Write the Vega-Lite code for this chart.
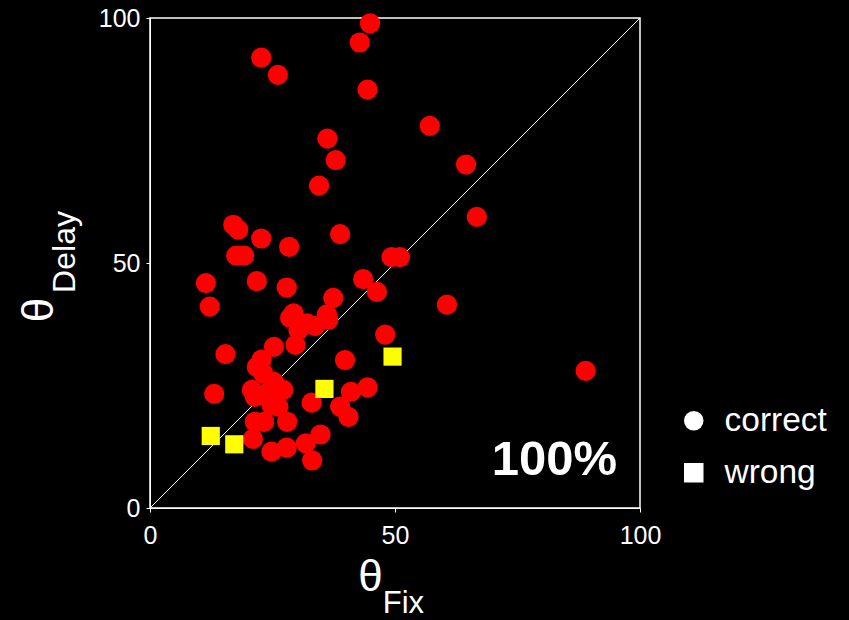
{
  "$schema": "https://vega.github.io/schema/vega-lite/v6.json",
  "width": 490,
  "height": 490,
  "autosize": {"type": "none"},
  "padding": {"left": 150, "top": 18, "right": 209, "bottom": 112},
  "background": "black",
  "config": {
    "font": "Liberation Sans",
    "view": {"stroke": "white", "strokeWidth": 1.5},
    "axis": {
      "grid": false,
      "domainColor": "white",
      "tickColor": "white",
      "labelColor": "white",
      "labelFontSize": 25,
      "labelFont": "Liberation Sans",
      "labelFlush": false,
      "tickSize": 4,
      "title": null
    }
  },
  "data": {
    "values": [
      {"fix": 44.9, "delay": 98.9, "outcome": "correct"},
      {"fix": 42.8, "delay": 95.0, "outcome": "correct"},
      {"fix": 22.7, "delay": 91.9, "outcome": "correct"},
      {"fix": 26.1, "delay": 88.4, "outcome": "correct"},
      {"fix": 44.4, "delay": 85.4, "outcome": "correct"},
      {"fix": 57.1, "delay": 78.0, "outcome": "correct"},
      {"fix": 36.2, "delay": 75.4, "outcome": "correct"},
      {"fix": 37.9, "delay": 71.0, "outcome": "correct"},
      {"fix": 64.5, "delay": 70.1, "outcome": "correct"},
      {"fix": 34.5, "delay": 65.8, "outcome": "correct"},
      {"fix": 66.7, "delay": 59.4, "outcome": "correct"},
      {"fix": 17.0, "delay": 57.8, "outcome": "correct"},
      {"fix": 18.0, "delay": 56.8, "outcome": "correct"},
      {"fix": 22.7, "delay": 55.0, "outcome": "correct"},
      {"fix": 38.8, "delay": 55.9, "outcome": "correct"},
      {"fix": 28.4, "delay": 53.3, "outcome": "correct"},
      {"fix": 17.6, "delay": 51.5, "outcome": "correct"},
      {"fix": 19.2, "delay": 51.5, "outcome": "correct"},
      {"fix": 49.3, "delay": 51.2, "outcome": "correct"},
      {"fix": 51.0, "delay": 51.2, "outcome": "correct"},
      {"fix": 11.4, "delay": 45.9, "outcome": "correct"},
      {"fix": 21.8, "delay": 46.3, "outcome": "correct"},
      {"fix": 27.9, "delay": 45.0, "outcome": "correct"},
      {"fix": 43.5, "delay": 46.7, "outcome": "correct"},
      {"fix": 46.3, "delay": 44.1, "outcome": "correct"},
      {"fix": 37.4, "delay": 42.9, "outcome": "correct"},
      {"fix": 12.2, "delay": 41.1, "outcome": "correct"},
      {"fix": 60.6, "delay": 41.5, "outcome": "correct"},
      {"fix": 29.3, "delay": 39.7, "outcome": "correct"},
      {"fix": 28.6, "delay": 38.8, "outcome": "correct"},
      {"fix": 32.0, "delay": 37.7, "outcome": "correct"},
      {"fix": 33.7, "delay": 37.1, "outcome": "correct"},
      {"fix": 36.1, "delay": 39.5, "outcome": "correct"},
      {"fix": 36.4, "delay": 38.4, "outcome": "correct"},
      {"fix": 30.3, "delay": 36.3, "outcome": "correct"},
      {"fix": 48.0, "delay": 35.4, "outcome": "correct"},
      {"fix": 25.3, "delay": 32.9, "outcome": "correct"},
      {"fix": 29.7, "delay": 33.3, "outcome": "correct"},
      {"fix": 15.4, "delay": 31.4, "outcome": "correct"},
      {"fix": 39.8, "delay": 30.2, "outcome": "correct"},
      {"fix": 22.8, "delay": 30.3, "outcome": "correct"},
      {"fix": 21.8, "delay": 28.8, "outcome": "correct"},
      {"fix": 23.1, "delay": 27.5, "outcome": "correct"},
      {"fix": 25.2, "delay": 25.8, "outcome": "correct"},
      {"fix": 88.9, "delay": 28.0, "outcome": "correct"},
      {"fix": 13.1, "delay": 23.3, "outcome": "correct"},
      {"fix": 20.8, "delay": 24.1, "outcome": "correct"},
      {"fix": 27.2, "delay": 24.1, "outcome": "correct"},
      {"fix": 21.4, "delay": 22.7, "outcome": "correct"},
      {"fix": 23.8, "delay": 23.4, "outcome": "correct"},
      {"fix": 24.8, "delay": 21.0, "outcome": "correct"},
      {"fix": 26.2, "delay": 20.7, "outcome": "correct"},
      {"fix": 33.0, "delay": 21.5, "outcome": "correct"},
      {"fix": 38.8, "delay": 20.7, "outcome": "correct"},
      {"fix": 41.0, "delay": 23.7, "outcome": "correct"},
      {"fix": 44.4, "delay": 24.6, "outcome": "correct"},
      {"fix": 40.5, "delay": 18.6, "outcome": "correct"},
      {"fix": 21.4, "delay": 17.6, "outcome": "correct"},
      {"fix": 23.3, "delay": 17.6, "outcome": "correct"},
      {"fix": 28.0, "delay": 17.6, "outcome": "correct"},
      {"fix": 21.0, "delay": 14.1, "outcome": "correct"},
      {"fix": 24.8, "delay": 11.5, "outcome": "correct"},
      {"fix": 27.9, "delay": 12.3, "outcome": "correct"},
      {"fix": 31.8, "delay": 13.2, "outcome": "correct"},
      {"fix": 34.8, "delay": 15.0, "outcome": "correct"},
      {"fix": 33.1, "delay": 9.7, "outcome": "correct"},
      {"fix": 12.4, "delay": 14.7, "outcome": "wrong"},
      {"fix": 17.2, "delay": 13.0, "outcome": "wrong"},
      {"fix": 35.6, "delay": 24.3, "outcome": "wrong"},
      {"fix": 49.5, "delay": 30.9, "outcome": "wrong"}
    ]
  },
  "layer": [
    {
      "data": {"values": [{}]},
      "mark": {"type": "rule", "color": "white", "strokeWidth": 1},
      "encoding": {
        "x": {"datum": 0, "type": "quantitative", "scale": {"domain": [0, 100]}, "axis": {"values": [0, 50, 100], "labelPadding": 11}},
        "y": {"datum": 0, "type": "quantitative", "scale": {"domain": [0, 100]}, "axis": {"values": [0, 50, 100], "labelPadding": 6}},
        "x2": {"datum": 100},
        "y2": {"datum": 100}
      }
    },
    {
      "mark": {"type": "point", "filled": true, "opacity": 1, "strokeWidth": 0, "color": "white", "size": 0},
      "encoding": {
        "x": {"field": "fix", "type": "quantitative"},
        "y": {"field": "delay", "type": "quantitative"},
        "shape": {
          "field": "outcome", "type": "nominal",
          "scale": {"domain": ["correct", "wrong"], "range": ["circle", "square"]},
          "legend": {
            "title": null,
            "orient": "none",
            "legendX": 527,
            "legendY": 386,
            "labelFontSize": 33.5,
            "labelColor": "white",
            "labelFont": "Liberation Sans",
            "symbolSize": 380,
            "symbolFillColor": "white",
            "symbolStrokeColor": "white",
            "symbolStrokeWidth": 0,
            "symbolOpacity": 1,
            "rowPadding": 17,
            "labelOffset": 14
          }
        }
      }
    },
    {
      "mark": {"type": "point", "filled": true, "opacity": 1, "strokeWidth": 0},
      "encoding": {
        "x": {"field": "fix", "type": "quantitative"},
        "y": {"field": "delay", "type": "quantitative"},
        "shape": {"field": "outcome", "type": "nominal", "legend": null},
        "color": {
          "condition": {"test": "datum.outcome === 'wrong'", "value": "#ffff00"},
          "value": "#ff0000"
        },
        "size": {
          "condition": {"test": "datum.outcome === 'wrong'", "value": 330},
          "value": 410
        }
      }
    },
    {
      "data": {"values": [{}]},
      "mark": {"type": "text", "text": "100%", "fontSize": 49, "fontWeight": "bold", "color": "white", "align": "right", "baseline": "alphabetic"},
      "encoding": {"x": {"datum": 95.3}, "y": {"datum": 6.7}}
    },
    {
      "data": {"values": [{}]},
      "mark": {"type": "text", "text": "θ", "fontSize": 44, "color": "white", "align": "center", "baseline": "alphabetic", "clip": false},
      "encoding": {"x": {"datum": 45.0}, "y": {"datum": -16.9}}
    },
    {
      "data": {"values": [{}]},
      "mark": {"type": "text", "text": "Fix", "fontSize": 31, "color": "white", "align": "left", "baseline": "alphabetic", "clip": false},
      "encoding": {"x": {"datum": 47.5}, "y": {"datum": -21.5}}
    },
    {
      "data": {"values": [{}]},
      "mark": {"type": "text", "text": "θ", "fontSize": 44, "color": "white", "align": "center", "baseline": "alphabetic", "angle": 270, "clip": false},
      "encoding": {"x": {"datum": -19.8}, "y": {"datum": 40.4}}
    },
    {
      "data": {"values": [{}]},
      "mark": {"type": "text", "text": "Delay", "fontSize": 32, "color": "white", "align": "left", "baseline": "alphabetic", "angle": 270, "clip": false},
      "encoding": {"x": {"datum": -15.3}, "y": {"datum": 43.9}}
    }
  ]
}
